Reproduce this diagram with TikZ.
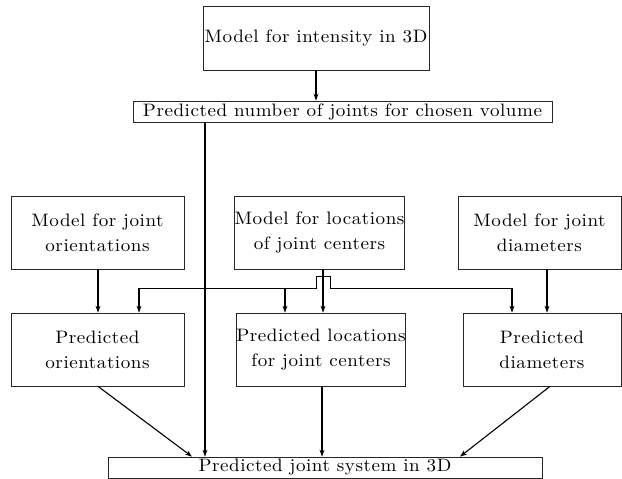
\documentclass[tikz,border=0pt]{standalone}
\usepackage{fontspec}
\usetikzlibrary{arrows.meta}
\newfontfamily\diaf{lmroman10-regular}[Extension=.otf,LetterSpace=3,FakeStretch=1.06]
\newcommand\diafont{\diaf\fontsize{18}{25}\selectfont}
\begin{document}
\begin{tikzpicture}[x=1pt,y=-1pt,
  box/.style={draw=black!85,line width=0.7pt,rectangle,inner sep=0pt,align=center,
    font=\diafont},
  arr/.style={line width=1.1pt,-{Stealth[length=7pt,width=5pt]}},
  ln/.style={line width=0.9pt}]
\useasboundingbox (0,0) rectangle (622,479);
\node[box,minimum width=226pt,minimum height=64pt] (top) at (316,38) {Model for intensity in 3D};
\node[box,minimum width=419pt,minimum height=21pt] (num) at (342.5,111.5) {Predicted number of joints for chosen volume};
\node[box,minimum width=173pt,minimum height=73pt] (mo) at (97.5,232.5) {Model for joint\\orientations};
\node[box,minimum width=169pt,minimum height=73pt] (ml) at (319.5,232.5) {Model for locations\\of joint centers};
\node[box,minimum width=163pt,minimum height=73pt] (md) at (539.5,232.5) {Model for joint\\diameters};
\node[box,minimum width=173pt,minimum height=73pt] (po) at (97.5,349.5) {Predicted\\orientations};
\node[box,minimum width=166pt,minimum height=73pt] (pl) at (321,349.5) {Predicted locations\\for joint centers};
\node[box,minimum width=158pt,minimum height=73pt] (pd) at (542,349.5) {Predicted\\diameters};
\node[box,minimum width=434pt,minimum height=21pt] (sys) at (325,467.5) {Predicted joint system in 3D};
% coordinates
\coordinate (bL) at (139,288);
\coordinate (bM) at (285,288);
\coordinate (bR) at (512,288);
\coordinate (h1) at (316,288);
\coordinate (h2) at (330,288);
% arrows
\draw[arr] (top.south) -- (top.south |- num.north);
\draw[arr] (num.south -| 205,0) -- (sys.north -| 205,0);
\draw[arr] (mo.south -| 98,0) -- (po.north -| 98,0);
\draw[arr] (ml.south -| 323,0) -- (pl.north -| 323,0);
\draw[arr] (md.south -| 547,0) -- (pd.north -| 547,0);
\draw[ln] (bL) -- (h1) -- ++(0,-12) -- ++(14,0) -- (h2) -- (bR);
\draw[arr] (bL) -- (bL |- po.north);
\draw[arr] (bM) -- (bM |- pl.north);
\draw[arr] (bR) -- (bR |- pd.north);
\draw[arr] (po.south -| 98,0) -- (sys.north -| 192,0);
\draw[arr] (pl.south -| 322,0) -- (sys.north -| 322,0);
\draw[arr] (pd.south -| 550,0) -- (sys.north -| 460,0);
\end{tikzpicture}
\end{document}
